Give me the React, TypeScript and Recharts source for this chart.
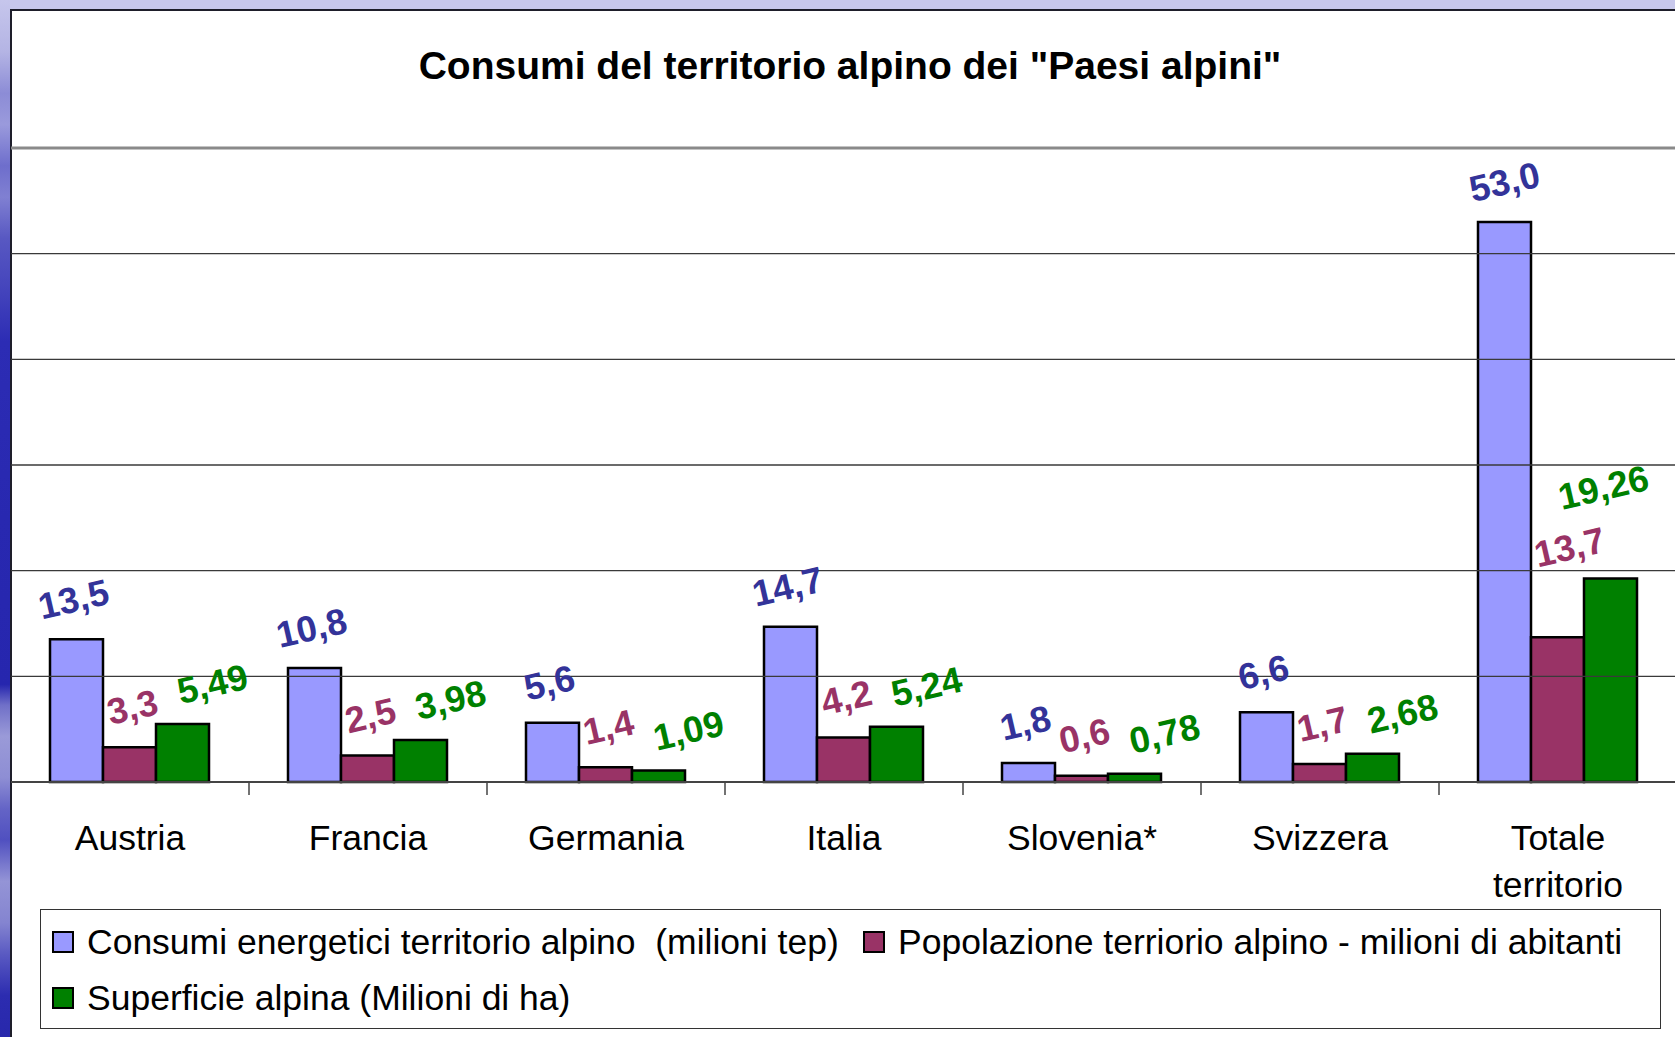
import React from 'react';
import { BarChart, Bar, XAxis, YAxis, LabelList, Legend, ReferenceLine } from 'recharts';

const categories = ['Austria', 'Francia', 'Germania', 'Italia', 'Slovenia*', 'Svizzera', 'Totale territorio'];
const consumi = [13.5, 10.8, 5.6, 14.7, 1.8, 6.6, 53.0];
const popolazione = [3.3, 2.5, 1.4, 4.2, 0.6, 1.7, 13.7];
const superficie = [5.49, 3.98, 1.09, 5.24, 0.78, 2.68, 19.26];
const yTicks = [0, 10, 20, 30, 40, 50, 60];

const seriesNames = [
  'Consumi energetici territorio alpino  (milioni tep)',
  'Popolazione terriorio alpino - milioni di abitanti',
  'Superficie alpina (Milioni di ha)',
];
const title = 'Consumi del territorio alpino dei "Paesi alpini"';

const data = categories.map((name, i) => ({
  name,
  consumi: consumi[i],
  popolazione: popolazione[i],
  superficie: superficie[i],
}));

const FONT = '"Liberation Sans", Arial, Helvetica, sans-serif';
const CHART_W = 1680;
const CHART_H = 1037;
const M = { top: 148, right: 3, left: 11, bottom: 155 };
const BAND = (CHART_W - M.left - M.right) / categories.length;
const Y_MAX = yTicks[yTicks.length - 1];

const fmt = (v: number, d: number) => v.toFixed(d).replace('.', ',');

const makeLabel = (color: string, decimals: number, dx: number, dy: number, lastDx: number, lastDy: number) =>
  (props: any) => {
    const { x, y, width, value, index } = props;
    const isLast = index === categories.length - 1;
    const cx = Number(x) + Number(width) / 2 + (isLast ? lastDx : dx);
    const cy = Number(y) + (isLast ? lastDy : dy);
    return (
      <text
        x={cx}
        y={cy}
        textAnchor="middle"
        dominantBaseline="central"
        transform={`rotate(-13 ${cx} ${cy})`}
        fill={color}
        fontFamily={FONT}
        fontWeight="bold"
        fontSize={36.5}
      >
        {fmt(Number(value), decimals)}
      </text>
    );
  };

const CatTick = (props: any) => {
  const { x, y, payload, index } = props;
  const lines = String(payload.value).split(' ');
  return (
    <g>
      {index > 0 && (
        <line x1={x - BAND / 2} x2={x - BAND / 2} y1={y} y2={y + 13} stroke="#444" strokeWidth={1.5} />
      )}
      <text x={x} y={y + 68} textAnchor="middle" fill="#000" fontFamily={FONT} fontSize={35.5}>
        {lines.map((l, i) => (
          <tspan key={i} x={x} dy={i === 0 ? 0 : 47}>
            {l}
          </tspan>
        ))}
      </text>
    </g>
  );
};

const colors = ['#9999ff', '#993366', '#008000'];

const Swatch = ({ color }: { color: string }) => (
  <div
    style={{
      width: 22,
      height: 22,
      boxSizing: 'border-box',
      background: color,
      border: '2px solid #000',
      flex: 'none',
    }}
  />
);

const LegendContent = () => {
  const item = (i: number, left: number, top: number) => (
    <div
      key={i}
      style={{
        position: 'absolute',
        left,
        top,
        display: 'flex',
        alignItems: 'center',
        height: 40,
        whiteSpace: 'pre',
        fontFamily: FONT,
        fontSize: 35.5,
        color: '#000',
      }}
    >
      <Swatch color={colors[i]} />
      <span style={{ marginLeft: 13, lineHeight: '40px' }}>{seriesNames[i]}</span>
    </div>
  );
  return (
    <div style={{ position: 'relative', width: '100%', height: '100%' }}>
      {item(0, 11, 12)}
      {item(1, 822, 12)}
      {item(2, 11, 68)}
    </div>
  );
};

const stripGradient =
  'linear-gradient(to bottom, #c6c6ec 0%, #b4b4e4 5%, #8c8cd6 9%, #9a9adc 12%, #6e6ecc 16%, #8080d2 19%, #5858c2 23%, #4444bc 28%, #2c2cb4 33%, #2828b0 50%, #2626ae 66%, #7070c8 68%, #9a9ad8 71%, #8e8ed4 75%, #6464c6 78%, #5050c0 81%, #9494d6 85%, #8484d0 89%, #5a5ac2 92%, #2c2cb0 96%, #2828ac 100%)';

export default function App() {
  return (
    <div
      style={{
        position: 'absolute',
        left: 0,
        top: 0,
        width: 1675,
        height: 1037,
        overflow: 'hidden',
        background: '#ffffff',
        fontFamily: FONT,
      }}
    >
      <div style={{ position: 'absolute', left: 0, top: 0, width: 1675, height: 10, background: '#c8c8ec' }} />
      <div style={{ position: 'absolute', left: 0, top: 0, width: 10, height: 1037, background: stripGradient }} />
      <div
        style={{
          position: 'absolute',
          left: 10,
          top: 9,
          width: 1700,
          height: 1100,
          borderLeft: '2px solid #1e1e2a',
          borderTop: '2px solid #1e1e2a',
          background: '#fff',
        }}
      />
      <div
        style={{
          position: 'absolute',
          left: 0,
          top: 46,
          width: 1700,
          textAlign: 'center',
          fontSize: 39,
          fontWeight: 'bold',
          lineHeight: '39px',
          color: '#000',
          whiteSpace: 'pre',
        }}
      >
        {title}
      </div>
      <div style={{ position: 'absolute', left: 0, top: 0 }}>
        <BarChart
          width={CHART_W}
          height={CHART_H}
          data={data}
          margin={M}
          barCategoryGap={39}
          barGap={0}
        >
          <YAxis domain={[0, Y_MAX]} ticks={yTicks} width={0} tick={false} axisLine={false} tickLine={false} />
          <XAxis
            dataKey="name"
            interval={0}
            height={100}
            tickSize={0}
            tickMargin={0}
            tickLine={false}
            axisLine={{ stroke: '#444', strokeWidth: 2 }}
            tick={<CatTick />}
          />
          {yTicks.slice(1, -1).map((t) => (
            <ReferenceLine key={t} y={t} stroke="#3a3a3a" strokeWidth={1.3} />
          ))}
          <ReferenceLine y={Y_MAX} stroke="#8a8a8a" strokeWidth={3} />
          <Bar dataKey="consumi" name={seriesNames[0]} fill={colors[0]} stroke="#000" strokeWidth={2.5} isAnimationActive={false}>
            <LabelList dataKey="consumi" content={makeLabel('#333399', 1, -3, -40, 0, -40)} />
          </Bar>
          <Bar dataKey="popolazione" name={seriesNames[1]} fill={colors[1]} stroke="#000" strokeWidth={2.5} isAnimationActive={false}>
            <LabelList dataKey="popolazione" content={makeLabel('#993366', 1, 3, -40, 12, -90)} />
          </Bar>
          <Bar dataKey="superficie" name={seriesNames[2]} fill={colors[2]} stroke="#000" strokeWidth={2.5} isAnimationActive={false}>
            <LabelList dataKey="superficie" content={makeLabel('#008000', 2, 30, -40, -7, -91)} />
          </Bar>
          <Legend
            layout="horizontal"
            verticalAlign="middle"
            align="center"
            content={<LegendContent />}
            wrapperStyle={{
              position: 'absolute',
              left: 40,
              top: 909,
              width: 1621,
              height: 120,
              boxSizing: 'border-box',
              border: '1.5px solid #333',
              background: '#fff',
            }}
          />
        </BarChart>
      </div>
    </div>
  );
}
